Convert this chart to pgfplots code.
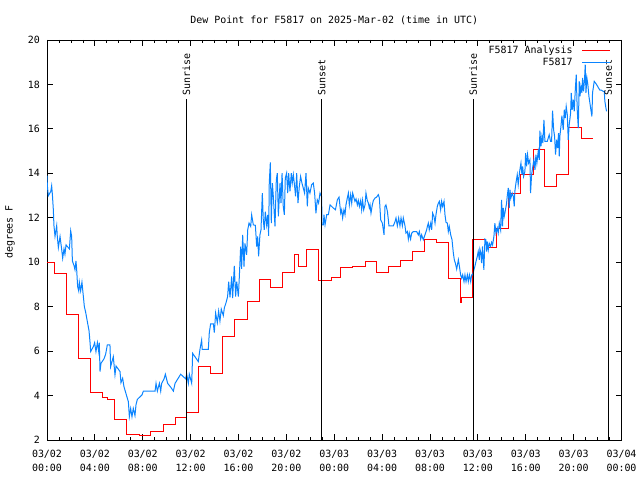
\documentclass[border=0pt]{standalone}
\usepackage{fontspec}
\setmainfont{DejaVu Sans Mono}
\usepackage{pgfplots}
\pgfplotsset{compat=1.18}
\definecolor{gpred}{RGB}{255,0,0}
\definecolor{gpblue}{RGB}{10,132,255}
\newcommand{\gpfont}{\fontsize{10}{13.6}\selectfont}
\begin{document}
\begin{tikzpicture}
\useasboundingbox (-47bp,-40bp) rectangle (593bp,440bp);
\begin{axis}[
  at={(0,0)}, anchor=south west,
  scale only axis, width=574.5bp, height=400bp,
  xmin=0, xmax=48, ymin=2, ymax=20,
  xtick={0,4,...,48}, minor x tick num=3,
  ytick={2,4,...,20},
  tick align=inside,
  major tick length=6bp, minor tick length=3bp,
  every tick/.style={black, line width=0.8bp},
  axis line style={black, line width=0.9bp},
  font=\gpfont,
  ticklabel style={font=\gpfont},
  /pgf/number format/assume math mode=true,
  xticklabel style={align=center, yshift=-7bp},
  xticklabels={{03/02\\00:00},{03/02\\04:00},{03/02\\08:00},{03/02\\12:00},{03/02\\16:00},{03/02\\20:00},{03/03\\00:00},{03/03\\04:00},{03/03\\08:00},{03/03\\12:00},{03/03\\16:00},{03/03\\20:00},{03/04\\00:00}},
  yticklabel style={xshift=-3.5bp},
  title={Dew Point for F5817 on 2025-Mar-02 (time in UTC)},
  title style={at={(0.5,1)}, anchor=base, yshift=10.5bp, inner sep=0pt},
  ylabel={degrees F},
  ylabel style={at={(axis description cs:-0.0644,0.52)}, anchor=center, inner sep=0pt},
]
\addplot[gpred, line width=1bp, const plot, forget plot] coordinates {
(0,10.0)(0.6,9.5)(1.65,7.66)(2.65,5.68)(3.6,4.15)(4.65,3.9)(5.05,3.8)(5.65,2.9)(6.65,2.26)(7.7,2.18)(8.65,2.4)(9.7,2.7)(10.7,3.03)(11.65,3.25)(12.65,5.3)(13.67,4.97)(14.65,6.65)(15.7,7.43)(16.73,8.22)(17.74,9.23)(18.69,8.85)(19.69,9.55)(20.72,10.36)(21.05,9.82)(21.72,10.55)(22.67,9.19)(23.75,9.3)(24.54,9.78)(25.51,9.82)(26.6,10.02)(27.54,9.55)(28.57,9.82)(29.57,10.09)(30.55,10.5)(31.58,11.03)(32.56,10.88)(33.56,9.27)(34.53,8.2)(34.67,8.4)(35.56,11.0)(36.6,10.88)(36.68,10.67)(37.57,11.53)(38.57,13.1)(39.54,13.95)(40.63,15.08)(41.55,13.4)(42.58,13.94)(43.58,16.08)(44.64,15.58)(45.64,15.58)
};
\addplot[gpblue, line width=1bp, forget plot] coordinates {
(0,13.9)(0.03,13.44)(0.11,12.99)(0.31,13.18)(0.39,13.44)(0.45,13.04)(0.53,12.36)(0.58,11.65)(0.67,11.16)(0.81,11.65)(0.86,11.16)(0.95,10.66)(1.09,11.16)(1.23,10.56)(1.31,10.18)(1.42,10.6)(1.5,10.36)(1.59,10.78)(1.87,10.6)(1.98,11.41)(2.06,11.16)(2.12,10.06)(2.26,9.84)(2.34,9.66)(2.42,10.06)(2.48,9.66)(2.56,8.9)(2.65,8.71)(2.7,9.1)(2.81,8.71)(2.92,9.1)(3.04,8.45)(3.12,8.0)(3.23,7.75)(3.37,7.33)(3.51,6.92)(3.59,6.43)(3.65,5.98)(3.87,6.2)(3.98,6.38)(4.09,5.98)(4.21,6.38)(4.32,5.98)(4.37,6.38)(4.43,5.08)(4.51,5.45)(4.76,5.65)(4.9,5.86)(5.04,6.28)(5.26,6.28)(5.32,5.3)(5.54,5.75)(5.68,4.93)(5.77,5.33)(6.1,5.08)(6.18,4.58)(6.32,4.78)(6.43,4.4)(6.8,3.72)(6.88,3.05)(6.99,3.42)(7.1,3.05)(7.21,3.42)(7.35,3.1)(7.44,3.6)(7.55,3.83)(7.94,4.03)(8.05,4.2)(9.03,4.2)(9.11,4.55)(9.22,4.2)(9.39,4.55)(9.5,4.2)(9.58,4.55)(9.78,4.75)(9.89,4.96)(10.08,4.55)(10.36,4.36)(10.56,4.2)(10.7,4.55)(11.17,4.96)(11.59,4.75)(11.67,4.96)(11.81,4.55)(11.89,4.96)(12.09,4.55)
(12.17,5.9)(12.64,5.53)(12.78,6.08)(12.92,6.5)(12.97,6.08)(13.48,6.08)(13.56,6.83)(13.67,7.22)(13.9,7.22)(13.98,6.83)(14.09,7.71)(14.23,7.28)(14.34,7.8)(14.45,7.35)(14.56,7.89)(14.73,7.6)(14.82,7.95)(14.95,8.16)(15.09,8.45)(15.18,9.13)(15.29,8.42)(15.43,9.36)(15.51,8.38)(15.65,9.84)(15.76,8.45)(15.85,9.13)(15.99,8.45)(16.07,9.36)(16.18,10.7)(16.26,9.7)(16.35,11.23)(16.46,9.8)(16.54,10.85)(16.68,10.33)(16.77,11.46)(16.88,11.76)(17.02,11.61)(17.1,12.13)(17.24,11.68)(17.41,11.66)(17.52,10.7)(17.6,11.16)(17.68,10.26)(17.79,11.23)(17.88,11.46)(17.99,13.11)(18.07,11.91)(18.15,11.46)(18.24,12.28)(18.35,11.68)(18.44,12.13)(18.52,11.19)(18.57,13.56)(18.66,14.49)(18.74,11.76)(18.83,13.56)(18.91,12.96)(19.0,12.06)(19.05,11.61)(19.16,13.71)(19.24,14.01)(19.33,12.06)(19.47,13.56)(19.55,12.66)(19.64,14.01)(19.74,12.51)(19.83,12.13)(19.91,13.79)(20.02,14.01)(20.11,13.11)(20.19,14.01)(20.3,13.19)(20.41,14.01)(20.49,13.56)(20.58,13.94)(20.69,13.41)(20.77,12.96)(20.86,14.01)(20.97,12.66)(21.08,13.41)(21.19,13.86)(21.3,13.56)(21.41,13.34)(21.52,13.11)(21.64,14.01)(21.75,12.51)(21.83,13.34)(21.97,13.11)(22.11,13.49)(22.25,13.56)(22.36,13.11)(22.47,12.2)(22.58,12.81)(22.69,12.66)(22.81,13.11)(22.94,12.96)
(22.95,12.81)(22.97,11.68)(23.09,11.68)(23.14,12.14)(23.23,11.68)(23.37,12.14)(23.51,12.14)(23.65,12.58)(23.92,12.44)(24.1,12.36)(24.26,12.81)(24.4,12.93)(24.54,12.21)(24.62,12.36)(24.7,11.99)(24.81,12.36)(24.9,12.14)(24.98,12.58)(25.09,12.89)(25.18,13.11)(25.26,12.58)(25.37,13.04)(25.46,12.66)(25.54,13.11)(25.65,12.89)(25.73,12.74)(25.82,12.85)(25.93,12.58)(26.01,12.78)(26.1,12.51)(26.21,12.78)(26.29,12.36)(26.37,12.78)(26.46,12.36)(26.57,12.58)(26.65,13.11)(26.76,12.78)(26.85,12.66)(26.93,12.44)(26.99,12.58)(27.07,12.21)(27.18,12.58)(27.27,12.78)(27.41,12.89)(27.54,12.93)(27.68,13.04)(27.77,12.89)(27.88,11.91)(28.02,11.76)(28.1,11.46)(28.16,11.23)(28.24,12.51)(28.32,12.58)(28.44,12.29)(28.52,11.91)(28.57,11.64)(28.94,11.64)(29.08,11.83)(29.16,11.99)(29.27,11.64)(29.38,11.99)(29.49,11.64)(29.58,11.99)(29.69,11.64)(29.77,11.99)(29.91,11.64)(29.99,11.31)(30.11,11.38)(30.19,11.04)(30.27,11.31)(30.38,11.04)(30.47,11.31)(30.61,11.38)(30.89,11.38)(31.02,11.23)(31.11,11.38)(31.22,11.04)(31.3,11.23)(31.44,11.01)(31.58,11.23)(31.72,11.46)(31.78,11.61)(31.86,11.76)(31.94,11.46)(32.06,11.76)(32.14,11.46)(32.22,12.21)(32.33,12.06)(32.42,11.76)(32.5,12.14)(32.61,12.51)(32.7,12.66)(32.78,12.74)(32.89,12.36)(32.97,12.74)(33.06,12.51)(33.17,12.74)(33.25,12.14)(33.34,11.79)(33.45,11.76)(33.53,11.38)(33.61,11.61)(33.73,11.23)(33.84,11.01)(33.95,10.41)(34.03,10.11)(34.12,9.96)(34.23,9.69)(34.37,10.11)(34.45,9.84)(34.56,9.43)(34.65,9.28)(34.73,9.43)(34.84,9.13)(34.92,9.43)(35.01,9.13)(35.12,9.43)(35.2,9.13)(35.29,9.43)(35.4,9.13)(35.48,9.43)
(35.56,9.43)(35.67,9.66)(35.75,9.81)(35.84,10.03)(35.95,10.26)(36.03,10.48)(36.12,10.11)(36.17,10.59)(36.25,10.41)(36.31,9.96)(36.39,10.71)(36.5,9.66)(36.59,11.04)(36.67,11.01)(36.73,10.48)(36.78,10.93)(36.87,10.56)(36.95,10.85)(37.06,10.71)(37.15,10.9)(37.23,10.78)(37.34,11.16)(37.42,11.76)(37.51,11.31)(37.62,11.54)(37.7,11.31)(37.79,11.76)(37.9,11.46)(37.98,12.81)(38.06,11.61)(38.12,12.44)(38.2,12.06)(38.26,12.21)(38.4,12.66)(38.45,12.96)(38.54,13.34)(38.62,12.44)(38.68,13.26)(38.76,12.89)(38.87,13.11)(38.96,12.96)(39.04,12.51)(39.09,13.19)(39.18,13.56)(39.29,13.94)(39.37,13.49)(39.46,13.94)(39.51,14.16)(39.6,14.46)(39.68,13.94)(39.74,14.31)(39.82,13.86)(39.93,14.09)(39.99,14.91)(40.07,14.31)(40.15,14.84)(40.24,14.46)(40.35,14.61)(40.4,13.11)(40.49,13.94)(40.57,14.24)(40.68,14.61)(40.77,14.16)(40.85,14.84)(40.93,14.46)(41.04,14.99)(41.13,14.61)(41.18,15.92)(41.27,15.21)(41.35,15.66)(41.43,15.36)(41.52,16.41)(41.6,15.44)(41.8,15.44)(41.96,15.74)(42.07,15.44)(42.16,15.44)(42.24,16.82)(42.33,15.96)(42.41,15.66)(42.49,14.84)(42.58,15.51)(42.66,15.14)(42.74,15.81)(42.8,14.76)(42.85,15.66)(42.94,16.11)(43.02,16.59)(43.13,15.96)(43.22,16.86)(43.3,16.49)(43.38,17.01)(43.47,16.64)(43.55,15.51)(43.63,16.19)(43.75,16.71)(43.8,17.62)(43.88,16.86)(43.97,17.32)(44.05,16.79)(44.14,17.77)(44.22,18.44)(44.3,16.86)(44.39,16.04)(44.47,18.14)(44.53,17.46)(44.61,17.91)(44.69,17.62)(44.75,18.29)(44.83,17.69)(44.91,18.22)(44.97,18.89)(45.03,17.62)(45.11,18.29)(45.19,17.99)(45.28,17.46)(45.36,17.17)(45.44,16.86)(45.53,16.56)(45.58,17.62)(45.64,17.84)(45.72,18.14)(45.86,18.04)(45.97,17.95)(46.08,17.84)(46.2,17.74)(46.33,17.74)(46.47,17.69)(46.56,17.69)(46.61,17.24)(46.7,16.94)(46.75,16.79)
};
\addplot[black, line width=0.9bp, forget plot] coordinates {(11.64,2)(11.64,17.35)};
\addplot[black, line width=0.9bp, forget plot] coordinates {(22.95,2)(22.95,17.35)};
\addplot[black, line width=0.9bp, forget plot] coordinates {(35.61,2)(35.61,17.35)};
\addplot[black, line width=0.9bp, forget plot] coordinates {(46.89,2)(46.89,17.35)};
\node[rotate=90, anchor=west, inner sep=3bp, font=\gpfont] at (axis cs:11.64,17.35) {Sunrise};
\node[rotate=90, anchor=west, inner sep=3bp, font=\gpfont] at (axis cs:22.95,17.35) {Sunset};
\node[rotate=90, anchor=west, inner sep=3bp, font=\gpfont] at (axis cs:35.61,17.35) {Sunrise};
\node[rotate=90, anchor=west, inner sep=3bp, font=\gpfont] at (axis cs:46.89,17.35) {Sunset};
% legend
\addplot[gpred, line width=1bp, forget plot] coordinates {(44.70,19.52)(47.04,19.52)};
\addplot[gpblue, line width=1bp, forget plot] coordinates {(44.70,18.98)(47.04,18.98)};
\node[anchor=mid east, inner sep=0pt, font=\gpfont] at (axis cs:43.94,19.52) {F5817 Analysis};
\node[anchor=mid east, inner sep=0pt, font=\gpfont] at (axis cs:43.94,18.98) {F5817};
\end{axis}
\end{tikzpicture}
\end{document}
